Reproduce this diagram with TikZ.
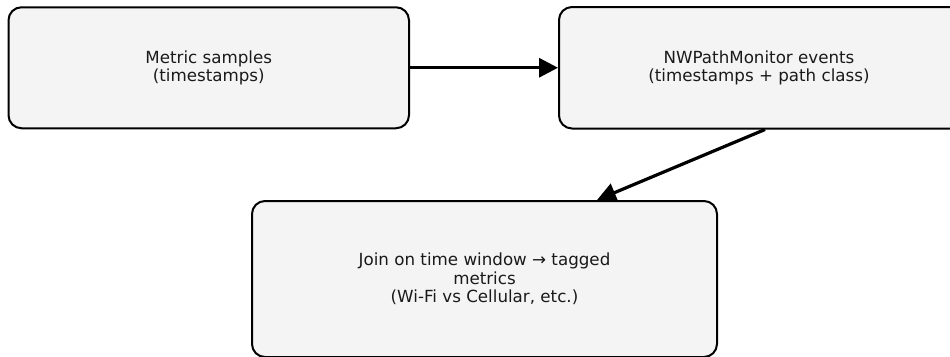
\documentclass[tikz,border=0pt]{standalone}
\usepackage{fontspec}
\setmainfont{DejaVu Sans}
\usetikzlibrary{arrows.meta}
\definecolor{boxfill}{HTML}{F4F4F4}
\definecolor{textgray}{HTML}{1A1A1A}
\tikzset{
  stagebox/.style={draw=black, line width=2pt, fill=boxfill, rounded corners=13pt,
    align=center, text=textgray, inner sep=0pt,
    font=\fontsize{16.7}{18.5}\selectfont},
  flow/.style={draw=black, line width=3.2pt,
    -{Triangle[length=19pt,width=19pt]}},
}
\begin{document}
\begin{tikzpicture}[x=1pt,y=-1pt]
  \useasboundingbox (0,0) rectangle (950,356);
  \clip (0,0) rectangle (950,356);
  % pipeline stages
  \node[stagebox, minimum width=400.5pt, minimum height=121pt] (samples)
    at (208.75,67.75) {Metric samples\\(timestamps)};
  \node[stagebox, minimum width=412pt, minimum height=121.5pt] (events)
    at (765,67.75) {\hspace*{-12pt}NWPathMonitor events\\\hspace*{-12pt}(timestamps + path class)};
  \node[stagebox, minimum width=465pt, minimum height=156pt] (join)
    at (484.5,279) {Join on time window → tagged\\metrics\\(Wi-Fi vs Cellular, etc.)};
  % connectors
  \coordinate (eventsout) at (events.south);
  \coordinate (joinin) at ([xshift=112.5pt]join.north);
  \draw[flow] (samples.east) -- (events.west);
  \draw[flow] (eventsout) -- (joinin);
\end{tikzpicture}
\end{document}
